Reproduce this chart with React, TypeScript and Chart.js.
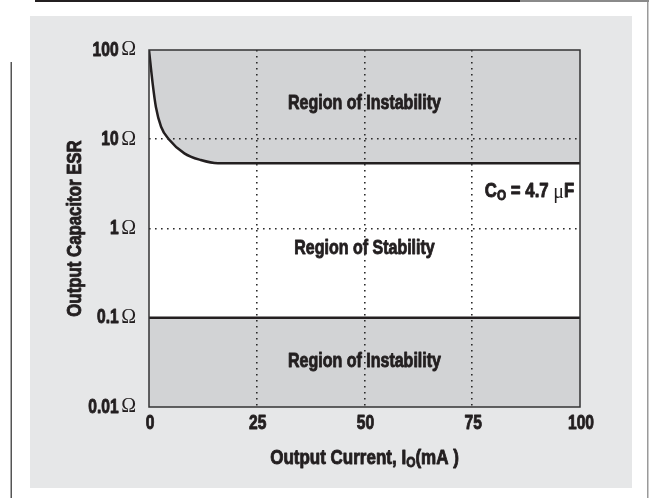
import React, { useEffect, useRef } from "react";
import { Chart, registerables } from "chart.js";

Chart.register(...registerables);

// Data
const boundaryCurrent = [0, 0.85, 1.6, 2.8, 4.6, 8.2, 12, 16, 100];
const boundaryEsr = [100, 42, 23, 13.8, 10, 6.95, 5.86, 5.4, 5.4];
const lowerCurrent = [0, 100];
const lowerEsr = [0.1, 0.1];
const xTicks = [0, 25, 50, 75, 100];
const yTicks = [0.01, 0.1, 1, 10, 100];
const yTickLabels = ["0.01", "0.1", "1", "10", "100"];

const SANS = "'Liberation Sans', Arial, sans-serif";
const SERIF = "'Liberation Serif', 'DejaVu Serif', serif";
const INK = "#231f20";
const REGION_GRAY = "#d2d3d5";
const PANEL_GRAY = "#e6e7e8";

function drawC(ctx: any, text: string, x: number, y: number, size: number, sx: number, align: string) {
  ctx.save();
  ctx.font = `bold ${size}px ${SANS}`;
  ctx.textBaseline = "middle";
  const w = ctx.measureText(text).width * sx;
  const left = align === "center" ? x - w / 2 : align === "right" ? x - w : x;
  ctx.translate(left, y);
  ctx.scale(sx, 1);
  ctx.textAlign = "left";
  ctx.fillStyle = INK;
  ctx.strokeStyle = INK;
  ctx.lineWidth = 0.9;
  ctx.lineJoin = "round";
  ctx.fillText(text, 0, 0);
  ctx.strokeText(text, 0, 0);
  ctx.restore();
  return w;
}

function measureC(ctx: any, text: string, size: number, sx: number) {
  ctx.save();
  ctx.font = `bold ${size}px ${SANS}`;
  const w = ctx.measureText(text).width * sx;
  ctx.restore();
  return w;
}

const decorPlugin = {
  id: "decor",
  beforeDraw(chart: any) {
    const { ctx, chartArea } = chart;
    ctx.save();
    ctx.fillStyle = "#ffffff";
    ctx.fillRect(0, 0, chart.width, chart.height);
    ctx.fillStyle = INK;
    ctx.fillRect(35, 0, 485, 2);
    ctx.fillStyle = "#8a8a8a";
    ctx.fillRect(520, 0, 129, 2);
    ctx.fillStyle = "#9a9a9a";
    ctx.fillRect(647, 2, 1.5, 496);
    ctx.fillStyle = "#555";
    ctx.fillRect(10.5, 62, 1.5, 436);
    ctx.fillStyle = PANEL_GRAY;
    ctx.fillRect(30, 16, 602, 472);
    ctx.fillStyle = "#ffffff";
    ctx.fillRect(chartArea.left, chartArea.top, chartArea.right - chartArea.left, chartArea.bottom - chartArea.top);
    ctx.restore();
  },
  afterDraw(chart: any) {
    const { ctx, chartArea } = chart;
    const xs = chart.scales.x;
    const ys = chart.scales.y;
    ctx.save();
    ctx.strokeStyle = "#333";
    ctx.lineWidth = 1.5;
    ctx.strokeRect(chartArea.left, chartArea.top, chartArea.right - chartArea.left, chartArea.bottom - chartArea.top);

    xTicks.forEach((v) => {
      drawC(ctx, String(v), xs.getPixelForValue(v) + 1, 423, 20, 0.78, "center");
    });
    yTicks.forEach((v, i) => {
      const y = ys.getPixelForValue(v);
      ctx.font = `20px ${SERIF}`;
      ctx.textAlign = "right";
      ctx.textBaseline = "middle";
      ctx.fillStyle = INK;
      const wO = ctx.measureText("\u03A9").width;
      ctx.fillText("\u03A9", 136, y);
      drawC(ctx, yTickLabels[i], 136 - wO - 2.5, y, 20, 0.78, "right");
    });

    // y axis title
    ctx.save();
    ctx.translate(75, (chartArea.top + chartArea.bottom) / 2);
    ctx.rotate(-Math.PI / 2);
    drawC(ctx, "Output Capacitor ESR", 0, 0, 20, 0.84, "center");
    ctx.restore();

    // x axis title with subscript
    const parts: [string, number, number][] = [
      ["Output Current, I", 20, 0],
      ["O", 14, 5],
      ["(mA )", 20, 0],
    ];
    let total = 0;
    parts.forEach(([t, s]) => {
      total += measureC(ctx, t, s, 0.85);
    });
    let cx = (chartArea.left + chartArea.right) / 2 - total / 2;
    parts.forEach(([t, s, dy]) => {
      cx += drawC(ctx, t, cx, 458 + dy, s, 0.85, "left");
    });
    ctx.restore();
  },
  afterDatasetsDraw(chart: any) {
    const { ctx } = chart;
    const xs = chart.scales.x;
    const ys = chart.scales.y;
    ctx.save();
    const mid = xs.getPixelForValue(50);
    drawC(ctx, "Region of Instability", mid, ys.getPixelForValue(25), 20, 0.8, "center");
    drawC(ctx, "Region of Stability", mid, ys.getPixelForValue(0.6), 20, 0.8, "center");
    drawC(ctx, "Region of Instability", mid, ys.getPixelForValue(0.032), 20, 0.8, "center");

    // C_O = 4.7 uF
    const y = ys.getPixelForValue(2.6);
    const sx = 0.84;
    const wC = measureC(ctx, "C", 20, sx);
    const wSub = measureC(ctx, "O", 14, sx);
    const wEq = measureC(ctx, " = 4.7 ", 20, sx);
    ctx.font = `20px ${SERIF}`;
    const wMu = ctx.measureText("\u03BC").width;
    const wF = measureC(ctx, "F", 20, sx);
    const total = wC + wSub + wEq + wMu + wF;
    let x = xs.getPixelForValue(88.3) - total / 2;
    x += drawC(ctx, "C", x, y, 20, sx, "left");
    x += drawC(ctx, "O", x, y + 5, 14, sx, "left");
    x += drawC(ctx, " = 4.7 ", x, y, 20, sx, "left");
    ctx.font = `20px ${SERIF}`;
    ctx.textAlign = "left";
    ctx.textBaseline = "middle";
    ctx.fillStyle = INK;
    ctx.fillText("\u03BC", x, y + 1);
    x += wMu;
    drawC(ctx, "F", x, y, 20, sx, "left");
    ctx.restore();
  },
};

export default function App() {
  const ref = useRef<HTMLCanvasElement | null>(null);
  useEffect(() => {
    if (!ref.current) return;
    const chart = new Chart(ref.current, {
      type: "line",
      data: {
        datasets: [
          {
            data: boundaryCurrent.map((c, i) => ({ x: c, y: boundaryEsr[i] })),
            borderColor: INK,
            borderWidth: 2.5,
            backgroundColor: REGION_GRAY,
            fill: "end",
            pointRadius: 0,
            cubicInterpolationMode: "monotone",
          },
          {
            data: lowerCurrent.map((c, i) => ({ x: c, y: lowerEsr[i] })),
            borderColor: INK,
            borderWidth: 2.5,
            backgroundColor: REGION_GRAY,
            fill: "start",
            pointRadius: 0,
          },
        ],
      },
      options: {
        responsive: false,
        devicePixelRatio: 1,
        animation: false,
        layout: { padding: { left: 149, right: 69, top: 50, bottom: 91 } },
        plugins: { legend: { display: false }, tooltip: { enabled: false } },
        scales: {
          x: {
            type: "linear",
            min: 0,
            max: 100,
            afterBuildTicks: (s: any) => {
              s.ticks = xTicks.map((v) => ({ value: v }));
            },
            ticks: { display: false },
            border: { display: false, dash: [1.6, 4.4] },
            grid: {
              z: 1,
              drawTicks: false,
              lineWidth: 1.6,
              color: (c: any) => (c.tick && c.tick.value > 0 && c.tick.value < 100 ? "#2a2a2a" : "rgba(0,0,0,0)"),
            },
          },
          y: {
            type: "logarithmic",
            min: 0.01,
            max: 100,
            afterBuildTicks: (s: any) => {
              s.ticks = yTicks.map((v) => ({ value: v }));
            },
            ticks: { display: false },
            border: { display: false, dash: [1.6, 4.4] },
            grid: {
              z: 1,
              drawTicks: false,
              lineWidth: 1.6,
              color: (c: any) => (c.tick && (c.tick.value === 1 || c.tick.value === 10) ? "#2a2a2a" : "rgba(0,0,0,0)"),
            },
          },
        },
      } as any,
      plugins: [decorPlugin],
    });
    return () => chart.destroy();
  }, []);
  return (
    <div style={{ position: "fixed", left: 0, top: 0, width: 649, height: 498 }}>
      <canvas ref={ref} width={649} height={498} style={{ display: "block" }} />
    </div>
  );
}
